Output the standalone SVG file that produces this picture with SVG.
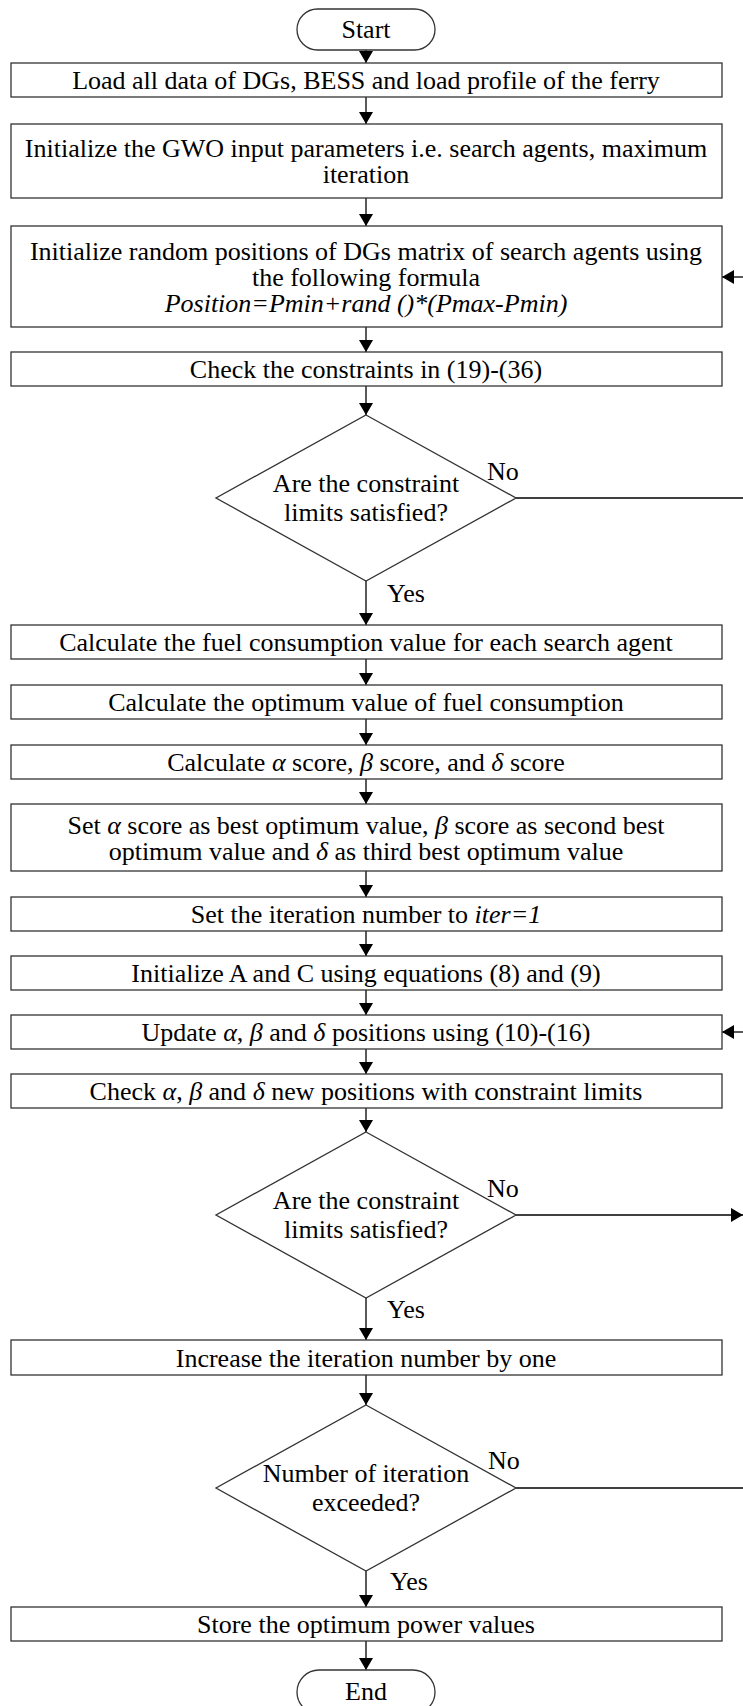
<svg xmlns="http://www.w3.org/2000/svg" width="743" height="1706" viewBox="0 0 743 1706">
<style>
.box{fill:#fff;stroke:#333;stroke-width:1.3}
.t{font-family:"Liberation Serif","Times New Roman",serif;font-size:26px;fill:#000;text-anchor:middle}
.l{font-family:"Liberation Serif","Times New Roman",serif;font-size:26px;fill:#000}
.i{font-style:italic}
.c{fill:none;stroke:#000;stroke-width:1.3}
</style>
<defs>
<marker id="ah" viewBox="0 0 12 14" refX="12" refY="7" markerWidth="12" markerHeight="14" markerUnits="userSpaceOnUse" orient="auto">
<path d="M0,0 L12,7 L0,14 Z" fill="#000"/>
</marker>
</defs>
<rect width="743" height="1706" fill="#fff"/>
<g id="connectors">
<line class="c" x1="366" y1="50" x2="366" y2="63" marker-end="url(#ah)"/>
<line class="c" x1="366" y1="97" x2="366" y2="124" marker-end="url(#ah)"/>
<line class="c" x1="366" y1="198" x2="366" y2="226" marker-end="url(#ah)"/>
<line class="c" x1="366" y1="327" x2="366" y2="352" marker-end="url(#ah)"/>
<line class="c" x1="366" y1="386" x2="366" y2="415" marker-end="url(#ah)"/>
<line class="c" x1="366" y1="581" x2="366" y2="625" marker-end="url(#ah)"/>
<line class="c" x1="366" y1="659" x2="366" y2="685" marker-end="url(#ah)"/>
<line class="c" x1="366" y1="719" x2="366" y2="745" marker-end="url(#ah)"/>
<line class="c" x1="366" y1="779" x2="366" y2="804" marker-end="url(#ah)"/>
<line class="c" x1="366" y1="871" x2="366" y2="897" marker-end="url(#ah)"/>
<line class="c" x1="366" y1="931" x2="366" y2="956" marker-end="url(#ah)"/>
<line class="c" x1="366" y1="990" x2="366" y2="1015" marker-end="url(#ah)"/>
<line class="c" x1="366" y1="1049" x2="366" y2="1074" marker-end="url(#ah)"/>
<line class="c" x1="366" y1="1108" x2="366" y2="1132" marker-end="url(#ah)"/>
<line class="c" x1="366" y1="1298" x2="366" y2="1340" marker-end="url(#ah)"/>
<line class="c" x1="366" y1="1375" x2="366" y2="1405" marker-end="url(#ah)"/>
<line class="c" x1="366" y1="1571" x2="366" y2="1607" marker-end="url(#ah)"/>
<line class="c" x1="366" y1="1641" x2="366" y2="1670" marker-end="url(#ah)"/>
<line class="c" x1="516" y1="498" x2="743" y2="498"/>
<line class="c" x1="516" y1="1215" x2="743" y2="1215" marker-end="url(#ah)"/>
<line class="c" x1="516" y1="1488" x2="743" y2="1488"/>
<line class="c" x1="743" y1="277" x2="722" y2="277" marker-end="url(#ah)"/>
<line class="c" x1="743" y1="1032" x2="722" y2="1032" marker-end="url(#ah)"/>
<text class="l" x="487" y="480">No</text>
<text class="l" x="387" y="602">Yes</text>
<text class="l" x="487" y="1197">No</text>
<text class="l" x="387" y="1318">Yes</text>
<text class="l" x="488" y="1469">No</text>
<text class="l" x="390" y="1590">Yes</text>
</g>
<g id="start"><rect class="box" x="297" y="9" width="138" height="41" rx="20.5"/><text class="t" x="366" y="38">Start</text></g>
<g id="load"><rect class="box" x="11" y="63" width="711" height="34"/><text class="t" x="366" y="89">Load all data of DGs, BESS and load profile of the ferry</text></g>
<g id="initgwo"><rect class="box" x="11" y="124" width="711" height="74"/><text class="t" x="366" y="157">Initialize the GWO input parameters i.e. search agents, maximum</text><text class="t" x="366" y="183">iteration</text></g>
<g id="initpos"><rect class="box" x="11" y="226" width="711" height="101"/><text class="t" x="366" y="259.5">Initialize random positions of DGs matrix of search agents using</text><text class="t" x="366" y="285.5">the following formula</text><text class="t i" x="366" y="311.5">Position=Pmin+rand ()*(Pmax-Pmin)</text></g>
<g id="check1"><rect class="box" x="11" y="352" width="711" height="34"/><text class="t" x="366" y="378">Check the constraints in (19)-(36)</text></g>
<g id="dec1"><polygon class="box" points="366,415 516,498 366,581 216,498"/><text class="t" x="366" y="492">Are the constraint</text><text class="t" x="366" y="521">limits satisfied?</text></g>
<g id="fuel"><rect class="box" x="11" y="625" width="711" height="34"/><text class="t" x="366" y="651">Calculate the fuel consumption value for each search agent</text></g>
<g id="optimum"><rect class="box" x="11" y="685" width="711" height="34"/><text class="t" x="366" y="711">Calculate the optimum value of fuel consumption</text></g>
<g id="scores"><rect class="box" x="11" y="745" width="711" height="34"/><text class="t" x="366" y="771">Calculate <tspan class="i">α</tspan> score, <tspan class="i">β</tspan> score, and <tspan class="i">δ</tspan> score</text></g>
<g id="setbest"><rect class="box" x="11" y="804" width="711" height="67"/><text class="t" x="366" y="834">Set <tspan class="i">α</tspan> score as best optimum value, <tspan class="i">β</tspan> score as second best</text><text class="t" x="366" y="860">optimum value and <tspan class="i">δ</tspan> as third best optimum value</text></g>
<g id="iter"><rect class="box" x="11" y="897" width="711" height="34"/><text class="t" x="366" y="923">Set the iteration number to <tspan class="i">iter=1</tspan></text></g>
<g id="initac"><rect class="box" x="11" y="956" width="711" height="34"/><text class="t" x="366" y="982">Initialize A and C using equations (8) and (9)</text></g>
<g id="update"><rect class="box" x="11" y="1015" width="711" height="34"/><text class="t" x="366" y="1041">Update <tspan class="i">α</tspan>, <tspan class="i">β</tspan> and <tspan class="i">δ</tspan> positions using (10)-(16)</text></g>
<g id="check2"><rect class="box" x="11" y="1074" width="711" height="34"/><text class="t" x="366" y="1100">Check <tspan class="i">α</tspan>, <tspan class="i">β</tspan> and <tspan class="i">δ</tspan> new positions with constraint limits</text></g>
<g id="dec2"><polygon class="box" points="366,1132 516,1215 366,1298 216,1215"/><text class="t" x="366" y="1209">Are the constraint</text><text class="t" x="366" y="1238">limits satisfied?</text></g>
<g id="increase"><rect class="box" x="11" y="1340" width="711" height="35"/><text class="t" x="366" y="1367">Increase the iteration number by one</text></g>
<g id="dec3"><polygon class="box" points="366,1405 516,1488 366,1571 216,1488"/><text class="t" x="366" y="1482">Number of iteration</text><text class="t" x="366" y="1511">exceeded?</text></g>
<g id="store"><rect class="box" x="11" y="1607" width="711" height="34"/><text class="t" x="366" y="1633">Store the optimum power values</text></g>
<g id="end"><rect class="box" x="297" y="1670" width="138" height="44" rx="22"/><text class="t" x="366" y="1700">End</text></g>
</svg>
